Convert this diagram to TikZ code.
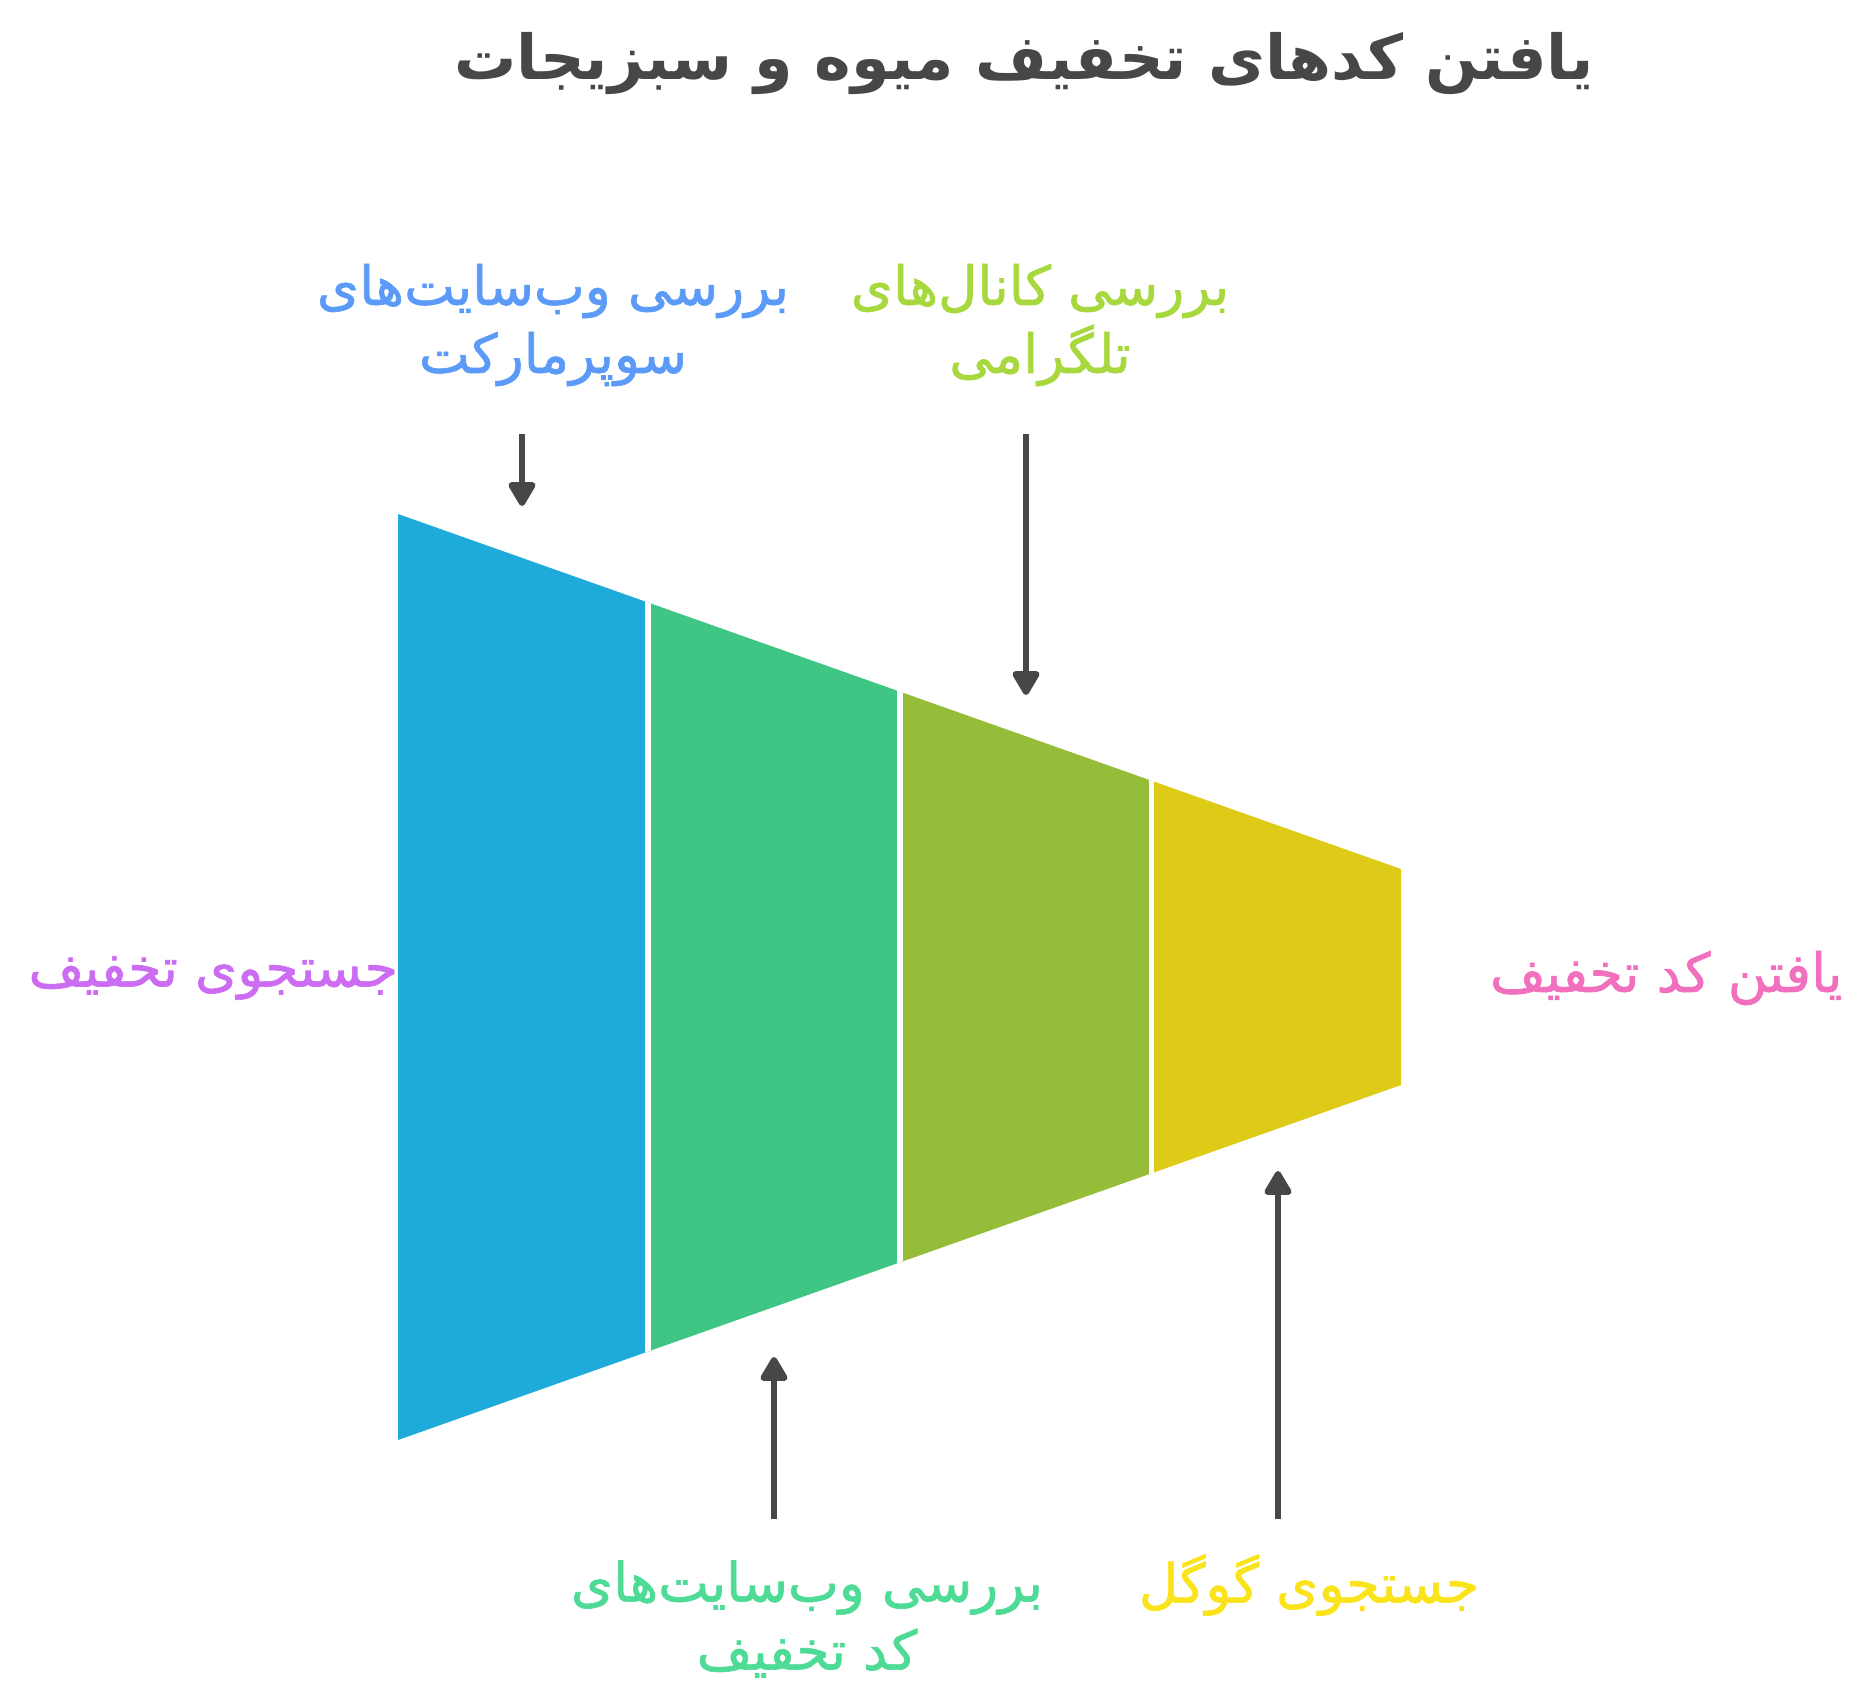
\documentclass[tikz,border=0pt]{standalone}
\usepackage{fontspec}
\newfontfamily\arabicfont[Script=Arabic]{DejaVu Sans}
\newfontfamily\arabicmedium[Script=Arabic,FakeBold=1.2]{DejaVu Sans}
\TeXXeTstate=1
\usetikzlibrary{arrows.meta}

\definecolor{funnelblue}{HTML}{1FABDA}
\definecolor{funnelgreen}{HTML}{3FC584}
\definecolor{funnelolive}{HTML}{96BD3A}
\definecolor{funnelyellow}{HTML}{DECB17}
\definecolor{titlegray}{HTML}{474747}
\definecolor{arrowgray}{HTML}{474747}
\definecolor{txtblue}{HTML}{5B9BF7}
\definecolor{txtlime}{HTML}{A7D83E}
\definecolor{txtgreen}{HTML}{4DDB95}
\definecolor{txtyellow}{HTML}{FAE31B}
\definecolor{txtpurple}{HTML}{CC6CF3}
\definecolor{txtpink}{HTML}{F170BE}

\begin{document}
\begin{tikzpicture}[x=0.5pt,y=-0.5pt,
    lbl/.style={font=\arabicmedium\fontsize{27pt}{34pt}\selectfont, align=center},
    arr/.style={draw=arrowgray, line width=3pt,
      -{Triangle[length=13.5pt,width=15pt,round]}}]
    \useasboundingbox (0,0) rectangle (1865,1688);

    \node[font=\arabicfont\bfseries\fontsize{31pt}{36pt}\selectfont,
      text=titlegray] (title) at (1024,64)
      {\beginR یافتن کدهای تخفیف میوه و سبزیجات\endR};

    % the funnel
    \begin{scope}
      \clip (398,514) -- (1401,869) -- (1401,1085) -- (398,1440) -- cycle;
      \fill[funnelblue] (390,500) rectangle (648,1450);
      \fill[funnelgreen] (648,500) rectangle (900,1450);
      \fill[funnelolive] (900,500) rectangle (1151.5,1450);
      \fill[funnelyellow] (1151.5,500) rectangle (1410,1450);
      \draw[white, line width=2.8pt] (648,500) -- (648,1450);
      \draw[white, line width=2.8pt] (900,500) -- (900,1450);
      \draw[white, line width=2.6pt] (1151.5,500) -- (1151.5,1450);
    \end{scope}

    \node[lbl, text=txtpurple, anchor=east] (start) at (405,978)
      {\beginR جستجوی تخفیف\endR};
    \node[lbl, text=txtpink, anchor=west] (finish) at (1483,978)
      {\beginR یافتن کد تخفیف\endR};

    \node[lbl, text=txtblue] (superm) at (553,325)
      {\beginR بررسی وب‌سایت‌های\endR\\\beginR سوپرمارکت\endR};
    \node[lbl, text=txtlime] (telegram) at (1040,325)
      {\beginR بررسی کانال‌های\endR\\\beginR تلگرامی\endR};
    \node[lbl, text=txtgreen] (coupon) at (807,1619)
      {\beginR بررسی وب‌سایت‌های\endR\\\beginR کد تخفیف\endR};
    \node[lbl, text=txtyellow] (google) at (1309,1585)
      {\beginR جستجوی گوگل\endR};

    \coordinate (a1s) at (522,434);
    \coordinate (a1e) at (522,506);
    \coordinate (a2s) at (1026,434);
    \coordinate (a2e) at (1026,695);
    \coordinate (a3s) at (774,1519);
    \coordinate (a3e) at (774,1357);
    \coordinate (a4s) at (1278,1519);
    \coordinate (a4e) at (1278,1171);
    \draw[arr] (a1s) -- (a1e);
    \draw[arr] (a2s) -- (a2e);
    \draw[arr] (a3s) -- (a3e);
    \draw[arr] (a4s) -- (a4e);
  \end{tikzpicture}
\end{document}
